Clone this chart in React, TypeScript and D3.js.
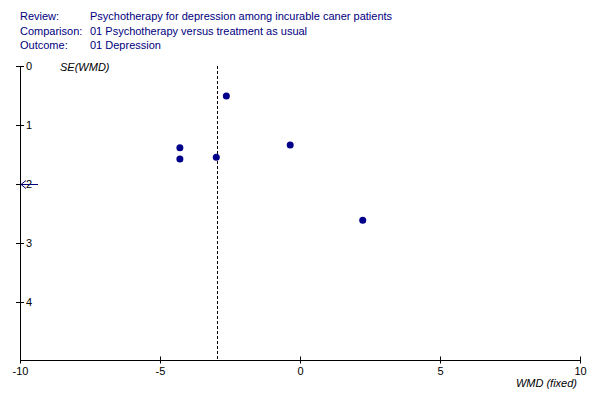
import React from 'react';
import * as d3 from 'd3';

const headerLabels = ['Review:', 'Comparison:', 'Outcome:'];
const headerValues = [
  'Psychotherapy for depression among incurable caner patients',
  '01 Psychotherapy versus treatment as usual',
  '01 Depression',
];

// studies: WMD and its standard error
const wmd = [-2.63, -4.29, -4.29, -2.99, -0.35, 2.24];
const se = [0.51, 1.39, 1.58, 1.55, 1.34, 2.62];
// study lying left of the plotted range (shown as an arrow)
const offLeftSe = [2.0];
const pooled = -2.95;

const xTicks = [-10, -5, 0, 5, 10];
const yTicks = [0, 1, 2, 3, 4];

const FONT = '"Liberation Sans", Arial, sans-serif';
const NAVY = '#000080';

const App = () => {
  const svgRef = React.useRef<SVGSVGElement>(null);

  React.useEffect(() => {
    const svg = d3.select(svgRef.current);
    svg.selectAll('*').remove();

    const x = d3.scaleLinear().domain([-10, 10]).range([20, 580]);
    const y = d3.scaleLinear().domain([0, 5]).range([66, 360.5]);

    svg.append('rect').attr('width', 600).attr('height', 400).attr('fill', '#fff');

    // header
    const head = svg.append('g').style('font-family', FONT).style('font-size', '11px').attr('fill', NAVY);
    head.selectAll('text.lab')
      .data(headerLabels)
      .join('text')
      .attr('class', 'lab')
      .attr('x', 20)
      .attr('y', (d, i) => 20 + i * 14.5)
      .text(d => d);
    head.selectAll('text.val')
      .data(headerValues)
      .join('text')
      .attr('class', 'val')
      .attr('x', 90)
      .attr('y', (d, i) => 20 + i * 14.5)
      .text(d => d);

    const ax = svg.append('g').style('font-family', FONT).style('font-size', '11px');

    // axes lines
    ax.append('line')
      .attr('x1', x(-10) + 0.5).attr('x2', x(-10) + 0.5)
      .attr('y1', y(0)).attr('y2', y(5) + 0.5)
      .attr('stroke', '#000');
    ax.append('line')
      .attr('x1', x(-10)).attr('x2', x(10) + 1)
      .attr('y1', y(5)).attr('y2', y(5))
      .attr('stroke', '#000');

    // y ticks
    ax.selectAll('line.yt')
      .data(yTicks)
      .join('line')
      .attr('class', 'yt')
      .attr('x1', x(-10) - 4).attr('x2', x(-10) + 4)
      .attr('y1', d => Math.round(y(d)) + 0.5).attr('y2', d => Math.round(y(d)) + 0.5)
      .attr('stroke', '#000');
    ax.selectAll('text.yl')
      .data(yTicks)
      .join('text')
      .attr('class', 'yl')
      .attr('x', x(-10) + 6)
      .attr('y', d => y(d) + 4)
      .text(d => d);

    // x ticks
    ax.selectAll('line.xt')
      .data(xTicks)
      .join('line')
      .attr('class', 'xt')
      .attr('x1', d => Math.round(x(d)) + 0.5).attr('x2', d => Math.round(x(d)) + 0.5)
      .attr('y1', y(5) - 4).attr('y2', y(5) + 3)
      .attr('stroke', '#000');
    ax.selectAll('text.xl')
      .data(xTicks)
      .join('text')
      .attr('class', 'xl')
      .attr('x', d => x(d) + 0.5)
      .attr('y', 375)
      .attr('text-anchor', 'middle')
      .text(d => d);

    ax.append('text')
      .attr('x', 60).attr('y', 71)
      .style('font-style', 'italic')
      .text('SE(WMD)');
    ax.append('text')
      .attr('x', 577).attr('y', 387)
      .attr('text-anchor', 'end')
      .style('font-style', 'italic')
      .text('WMD (fixed)');

    // pooled estimate
    svg.append('line')
      .attr('x1', Math.round(x(pooled)) + 0.5).attr('x2', Math.round(x(pooled)) + 0.5)
      .attr('y1', y(0)).attr('y2', y(5))
      .attr('stroke', '#000')
      .attr('stroke-dasharray', '3,2');

    // studies
    svg.selectAll('circle.pt')
      .data(wmd.map((d, i) => ({ wmd: d, se: se[i] })))
      .join('circle')
      .attr('class', 'pt')
      .attr('cx', d => x(d.wmd))
      .attr('cy', d => y(d.se))
      .attr('r', 3.5)
      .attr('fill', '#00008b');

    // off-scale arrows
    svg.selectAll('path.arrow')
      .data(offLeftSe)
      .join('path')
      .attr('class', 'arrow')
      .attr('d', d => {
        const x0 = x(-10) + 1;
        const yy = Math.round(y(d)) + 0.5;
        return `M${x0 + 17},${yy}H${x0}M${x0 + 5},${yy - 4}L${x0},${yy}L${x0 + 5},${yy + 4}`;
      })
      .attr('fill', 'none')
      .attr('stroke', NAVY);
  }, []);

  return <svg ref={svgRef} width={600} height={400} style={{ position: 'absolute', left: 0, top: 0 }} />;
};

export default App;
